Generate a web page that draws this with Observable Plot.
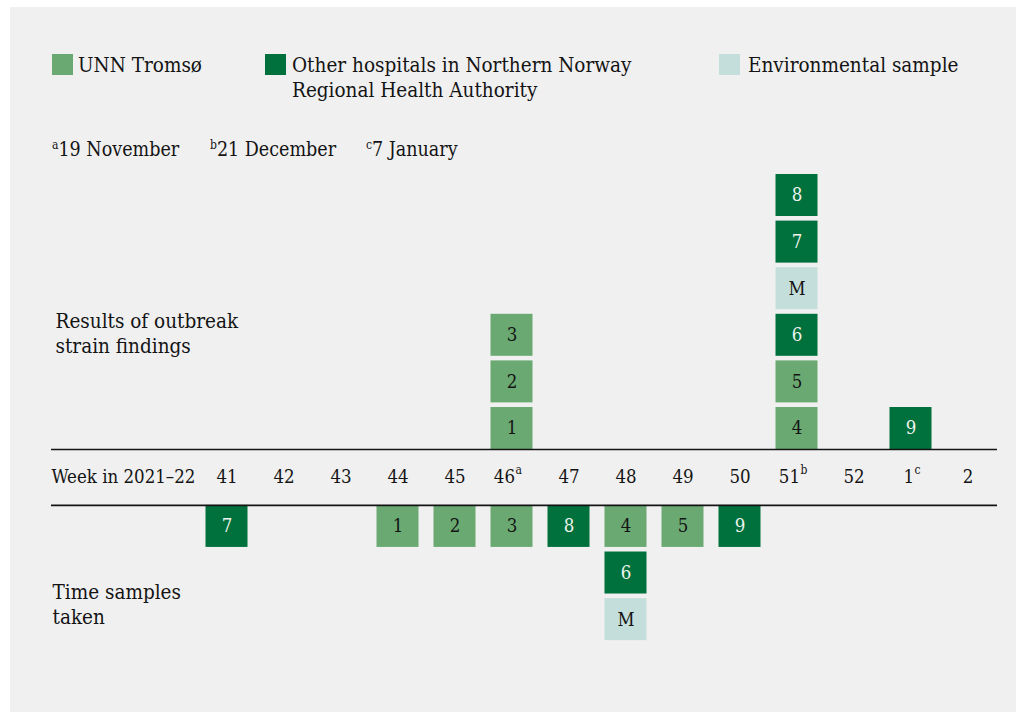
<!DOCTYPE html>
<html>
<head>
<meta charset="utf-8">
<script src="https://cdn.jsdelivr.net/npm/d3@7"></script>
<script src="https://cdn.jsdelivr.net/npm/@observablehq/plot@0.6"></script>
<style>
  html, body { margin: 0; padding: 0; background: #ffffff; }
  body { width: 1026px; height: 717px; position: relative; overflow: hidden;
         font-family: "DejaVu Serif Condensed", "DejaVu Serif", serif; font-stretch: condensed; color: #141414; }
  #panel { position: absolute; left: 10px; top: 7px; width: 1006px; height: 705px; background: #f0f0f0; }
  #chart { position: absolute; left: 0; top: 0; }
  .lg { position: absolute; font-size: 20.5px; line-height: 25px; white-space: nowrap; }
  .sw { position: absolute; width: 21px; height: 21px; }
  .fn { position: absolute; font-size: 19.5px; line-height: 25px; white-space: nowrap; top: 137px; }
  .fn sup { font-size: 12px; vertical-align: 0; position: relative; top: -7px; margin-right: 0px; }
</style>
</head>
<body>
<div id="panel"></div>
<div id="chart"></div>
<div id="legend"></div>
<div id="notes"></div>
<script>
// ---- data ----
const weeks = ["41", "42", "43", "44", "45", "46", "47", "48", "49", "50", "51", "52", "1", "2"];
const weekNoteWeeks = ["46", "51", "1"];
const weekNoteLetters = ["a", "b", "c"];
const noteTexts = ["19 November", "21 December", "7 January"];

const sourceNames = ["UNN Tromsø", "Other hospitals in Northern Norway\nRegional Health Authority", "Environmental sample"];
const sourceKeys = ["UNN", "Other", "Env"];
const sourceColors = ["#6aaa72", "#00703c", "#c4dfdb"];

// Results of outbreak strain findings (bottom to top per week)
const resultWeeks   = ["46", "46", "46", "51", "51", "51", "51", "51", "51", "1"];
const resultLabels  = ["1", "2", "3", "4", "5", "6", "M", "7", "8", "9"];
const resultSources = ["UNN", "UNN", "UNN", "UNN", "UNN", "Other", "Env", "Other", "Other", "Other"];

// Time samples taken (top to bottom per week)
const sampleWeeks   = ["41", "44", "45", "46", "47", "48", "48", "48", "49", "50"];
const sampleLabels  = ["7", "1", "2", "3", "8", "4", "6", "M", "5", "9"];
const sampleSources = ["Other", "UNN", "UNN", "UNN", "Other", "UNN", "Other", "Env", "UNN", "Other"];

// ---- build tables (stack level = order within week) ----
function stackTable(ws, ls, ss) {
  const count = {};
  return ws.map((w, i) => {
    const level = count[w] || 0;
    count[w] = level + 1;
    return {week: w, label: ls[i], source: ss[i], level};
  });
}
const results = stackTable(resultWeeks, resultLabels, resultSources);
const samples = stackTable(sampleWeeks, sampleLabels, sampleSources);
const axisGap = 1.2; // height (in box units) of the week band between the two rules
const weekNotes = weekNoteWeeks.map((w, i) => ({week: w, letter: weekNoteLetters[i]}));

const font = "DejaVu Serif Condensed, DejaVu Serif, serif";
const ink = "#141414";
const dark = d => d.source === "Other";

const chart = Plot.plot({
  width: 1026,
  height: 717,
  marginLeft: 51,
  marginRight: 29,
  style: {background: "transparent", fontFamily: font, fontStretch: "condensed", color: ink},
  x: {type: "band", domain: weeks, range: [197.5, 995.5], padding: 0, axis: null},
  y: {domain: [0, 1], range: [449, 402.4], axis: null},
  color: {domain: sourceKeys, range: sourceColors},
  marks: [
    // boxes above: results
    Plot.barY(results, {x: "week", y1: "level", y2: d => d.level + 1, fill: "source",
      insetTop: 4.6, insetLeft: 7.5, insetRight: 7.5}),
    // boxes below: samples
    Plot.barY(samples, {x: "week", y1: d => -axisGap - d.level - 1, y2: d => -axisGap - d.level, fill: "source",
      insetBottom: 4.6, insetLeft: 7.5, insetRight: 7.5}),
    // labels in boxes
    Plot.text(results.filter(d => !dark(d)), {x: "week", y: "level", dy: -21, text: "label", fill: ink, fontSize: 18.5}),
    Plot.text(results.filter(dark), {x: "week", y: "level", dy: -21, text: "label", fill: "#eef5ee", fontSize: 18.5}),
    Plot.text(samples.filter(d => !dark(d)), {x: "week", y: d => -axisGap - d.level, dy: 21, text: "label", fill: ink, fontSize: 18.5}),
    Plot.text(samples.filter(dark), {x: "week", y: d => -axisGap - d.level, dy: 21, text: "label", fill: "#eef5ee", fontSize: 18.5}),
    // rules
    Plot.ruleY([0, -axisGap], {stroke: ink, strokeWidth: 1.6}),
    // week axis
    Plot.text(["Week in 2021–22"], {frameAnchor: "left", y: [-axisGap / 2], text: d => d, textAnchor: "start", fontSize: 18.5, fill: ink}),
    Plot.text(weeks.filter(w => !weekNoteWeeks.includes(w)), {x: d => d, y: () => -axisGap / 2, text: d => d, fontSize: 18.5, fill: ink}),
    Plot.text(weekNotes, {x: "week", y: () => -axisGap / 2, text: "week", textAnchor: "end", dx: 3, fontSize: 18.5, fill: ink}),
    Plot.text(weekNotes, {x: "week", y: () => -axisGap / 2, text: "letter", textAnchor: "start", dx: 3.5, dy: -7, fontSize: 12, fill: ink}),
    // side annotations
    Plot.text(["Results of outbreak\nstrain findings"], {frameAnchor: "left", y: [2.51], text: d => d, textAnchor: "start", dx: 4, lineHeight: 1.22, fontSize: 20.5, fill: ink}),
    Plot.text(["Time samples\ntaken"], {frameAnchor: "left", y: [-3.3], text: d => d, textAnchor: "start", dx: 1, lineHeight: 1.22, fontSize: 20.5, fill: ink})
  ]
});
document.getElementById("chart").appendChild(chart);

// ---- legend (HTML) ----
const legendPos = [[52, 78], [265, 292], [719, 748]];
const legend = document.getElementById("legend");
sourceNames.forEach((name, i) => {
  const sw = document.createElement("div");
  sw.className = "sw";
  sw.style.left = legendPos[i][0] + "px";
  sw.style.top = "54px";
  sw.style.background = sourceColors[i];
  legend.appendChild(sw);
  const t = document.createElement("div");
  t.className = "lg";
  t.style.left = legendPos[i][1] + "px";
  t.style.top = "53px";
  t.innerHTML = name.split("\n").join("<br>");
  legend.appendChild(t);
});

// ---- footnotes ----
const notePos = [52, 210, 366];
const notes = document.getElementById("notes");
noteTexts.forEach((txt, i) => {
  const d = document.createElement("div");
  d.className = "fn";
  d.style.left = notePos[i] + "px";
  d.innerHTML = "<sup>" + weekNoteLetters[i] + "</sup>" + txt;
  notes.appendChild(d);
});
</script>
</body>
</html>
